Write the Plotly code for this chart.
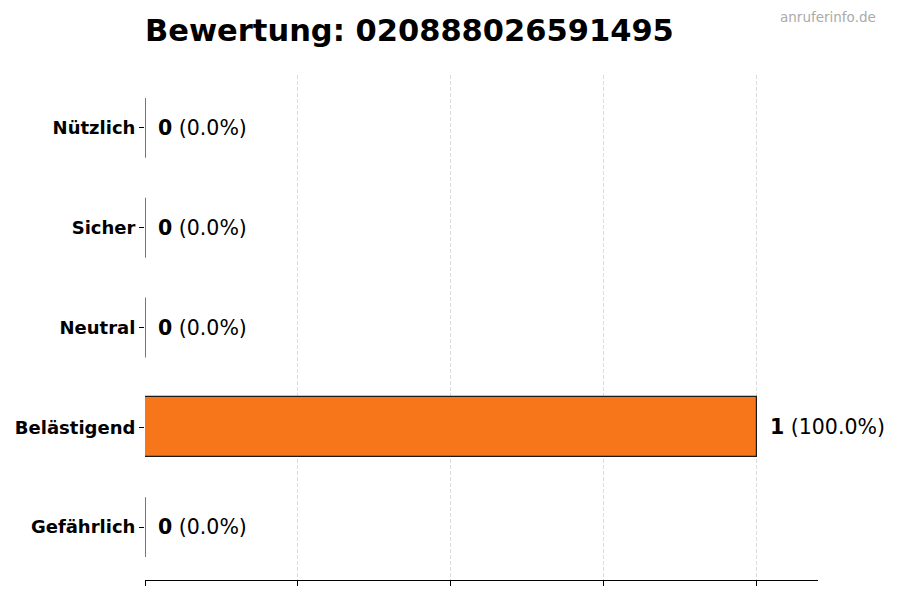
import plotly.graph_objects as go

categories = ["Gefährlich", "Belästigend", "Neutral", "Sicher", "Nützlich"]
counts = [0, 1, 0, 0, 0]
total = sum(counts)
percents = [c / total * 100 for c in counts]

title = "Bewertung: 020888026591495"
watermark = "anruferinfo.de"
bar_color = "#F8761A"
font = "DejaVu Sans"

pos = list(range(len(categories)))
bar_w = 0.6

fig = go.Figure()

fig.add_trace(go.Bar(
    x=counts, y=pos, orientation="h", width=bar_w,
    marker=dict(color=bar_color, line=dict(color="#1a1a1a", width=1.2)),
    showlegend=False, hoverinfo="skip",
))

# zero bars still show their edge in the original, draw that as a thin line
ex, ey = [], []
for p, c in zip(pos, counts):
    if c == 0:
        ex += [c, c, None]
        ey += [p - bar_w / 2, p + bar_w / 2, None]
fig.add_trace(go.Scatter(x=ex, y=ey, mode="lines",
                         line=dict(color="#1a1a1a", width=1.2),
                         showlegend=False, hoverinfo="skip"))

for p, c, pc in zip(pos, counts, percents):
    fig.add_annotation(x=c, y=p, xref="x", yref="y",
                       text=f"<b>{c}</b> ({pc:.1f}%)",
                       showarrow=False, xanchor="left", yanchor="middle",
                       xshift=11, font=dict(family=font, size=20.5, color="black"))

fig.add_annotation(x=1.089, y=1.115, xref="paper", yref="paper",
                   text=watermark, showarrow=False,
                   xanchor="right", yanchor="middle",
                   font=dict(family=font, size=13.5, color="#aaaaaa"))

# page body adds an 8px offset, so margins are shifted by that
fig.update_layout(
    width=900, height=600,
    margin=dict(l=137, r=90, t=67, b=28),
    plot_bgcolor="white", paper_bgcolor="white",
    font=dict(family=font, color="black"),
    title=dict(text=f"<b>{title}</b>", x=137 / 900, xanchor="left",
               y=1 - 22 / 600, yanchor="middle", yref="container",
               font=dict(family=font, size=30.5, color="black")),
    bargap=0,
)

fig.update_xaxes(
    range=[0, 1.1], tickvals=[0, 0.25, 0.5, 0.75, 1.0],
    showticklabels=False, ticks="outside", ticklen=5, tickcolor="black",
    showline=True, linecolor="black", linewidth=1.2,
    showgrid=True, gridcolor="#dcdcdc", griddash="4px,2px", gridwidth=0.8,
    zeroline=False, fixedrange=True, automargin=False,
)
fig.update_yaxes(
    range=[-0.53, 4.53], tickvals=pos,
    ticktext=[f"<b>{c}</b>" for c in categories],
    tickfont=dict(family=font, size=18, color="black"),
    ticks="outside", ticklen=5, tickcolor="black",
    showline=False, showgrid=False, zeroline=False, fixedrange=True,
    automargin=False,
)

fig.write_html("out.html")
